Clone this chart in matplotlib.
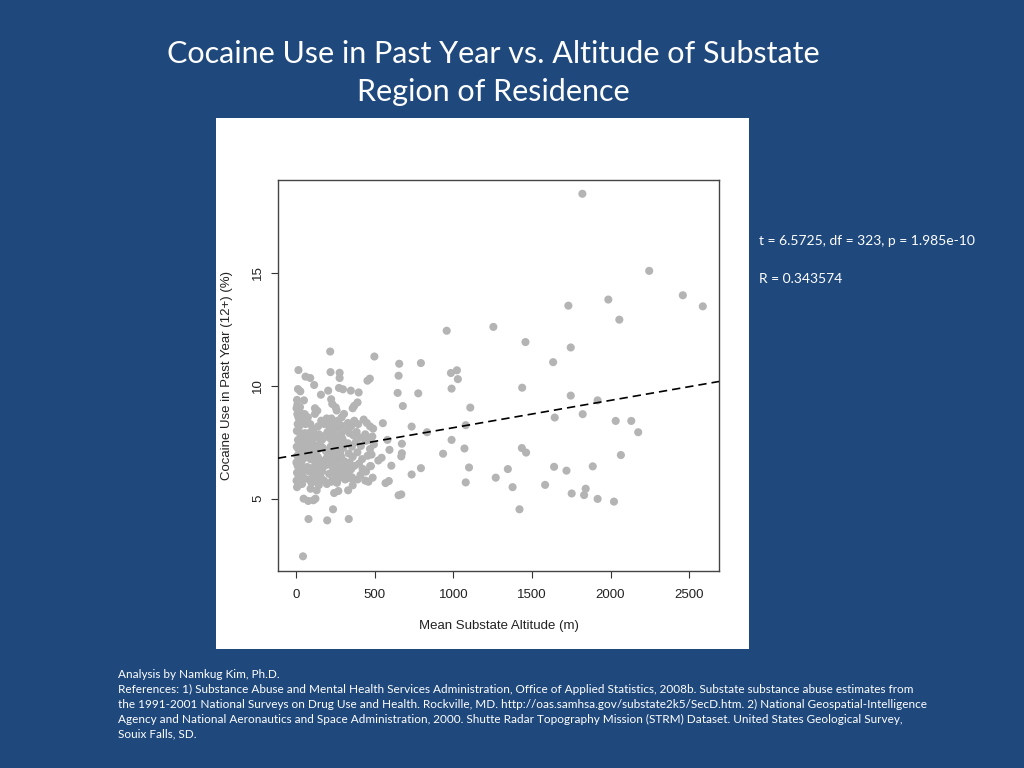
import matplotlib
matplotlib.use("Agg")
import matplotlib.pyplot as plt
from matplotlib.patches import Rectangle

# scattered points (altitude m, cocaine use %)
sparse_alt = [44, 15, 60, 90, 115, 12, 27, 6, 158, 217, 219, 277, 277, 204, 223,
              273, 298, 348, 398, 454, 469, 498, 656, 652, 646, 679, 794, 777,
              958, 985, 1023, 1029, 989, 1108, 1255, 1079, 989, 1071, 935, 1100,
              1079, 833, 735, 552, 581, 594, 673, 673, 669, 606, 735, 794, 569,
              590, 652, 669, 487, 523, 544, 471, 335, 198, 79, 235, 48, 77, 110,
              123, 6, 92, 131, 242, 269, 331, 360,
              1821, 2246, 2460, 2587, 1986, 1732, 2056, 1459, 1747, 1635, 1438,
              1747, 1918, 1645, 1823, 2033, 2132, 2176, 2066, 1436, 1463, 1347,
              1270, 1377, 1421, 1584, 1641, 1720, 1887, 1753, 1842, 1832, 1918,
              2022]
sparse_use = [2.45, 10.69, 10.4, 10.34, 10.03, 9.85, 9.75, 9.37, 9.6, 11.51, 10.6,
              10.57, 10.34, 9.78, 9.4, 9.9, 9.84, 9.78, 9.7, 10.22, 10.31, 11.29,
              10.97, 10.44, 9.68, 9.1, 11.0, 9.66, 12.43, 10.56, 10.68, 10.29,
              9.87, 9.03, 12.6, 8.25, 7.6, 7.22, 6.99, 6.38, 5.72, 7.94, 8.19,
              8.34, 7.6, 7.16, 7.43, 7.01, 6.87, 6.46, 6.07, 6.35, 5.69, 5.78,
              5.15, 5.19, 5.93, 6.69, 6.81, 6.44, 4.1, 4.04, 4.1, 4.53, 5.0, 4.9,
              4.93, 5.0, 5.51, 5.44, 5.37, 5.25, 5.34, 5.37, 5.59,
              18.49, 15.08, 14.0, 13.51, 13.81, 13.54, 12.92, 11.93, 11.69, 11.04,
              9.91, 9.56, 9.35, 8.59, 8.74, 8.44, 8.44, 7.94, 6.93, 7.24, 7.04,
              6.31, 5.93, 5.51, 4.53, 5.61, 6.41, 6.24, 6.43, 5.23, 5.44, 5.16,
              4.99, 4.87]

# dense cluster below 500 m
cluster_alt = [3, 8, 15, 22, 30, 42, 55, 10, 20, 45, 60, 70, 5, 18, 28, 40, 55, 12,
               25, 35, 48, 62, 4, 14, 26, 38, 52, 65, 8, 20, 32, 44, 58, 2, 10, 22,
               34, 46, 60, 6, 16, 28, 40, 52, 3, 14, 26, 38, 8, 25, 50,
               75, 90, 105, 120, 140, 160, 180, 195, 80, 95, 110, 125, 145, 165,
               185, 200, 70, 88, 100, 118, 135, 150, 170, 190, 78, 92, 108, 122,
               138, 155, 175, 195, 72, 85, 100, 115, 130, 148, 165, 182, 82, 98,
               112, 128, 145, 160, 178, 196, 135, 100, 160, 120,
               205, 225, 245, 265, 285, 305, 215, 240, 260, 290, 310, 210, 230,
               250, 270, 295, 315, 220, 240, 262, 280, 300, 205, 228, 248, 268,
               288, 308, 215, 235, 255, 275, 298, 318, 210, 232, 252, 272, 292,
               312, 225, 260, 245, 280, 230, 252, 258, 290,
               330, 350, 370, 395, 430, 450, 470, 490, 360, 370, 391, 340, 365,
               385, 410, 440, 465, 485, 330, 355, 380, 412, 444, 470, 495, 335,
               360, 390, 420, 455, 480, 340, 370, 400, 423, 445, 476, 330, 355,
               391, 410, 350, 440, 325, 357, 460]
cluster_use = [9.0, 8.74, 8.6, 8.45, 8.74, 8.74, 8.74, 8.3, 8.2, 8.4, 8.3, 8.45,
               8.0, 7.95, 7.85, 7.7, 7.9, 7.6, 7.5, 7.35, 7.55, 7.65, 7.3, 7.2,
               7.1, 7.0, 7.15, 7.05, 6.9, 6.8, 6.65, 6.75, 6.85, 6.6, 6.45, 6.35,
               6.25, 6.4, 6.3, 6.15, 6.0, 5.95, 6.05, 5.9, 5.8, 5.7, 5.85, 5.65,
               9.15, 9.05, 9.35,
               8.6, 8.3, 8.1, 8.75, 8.2, 8.45, 8.3, 8.55, 7.9, 7.75, 7.95, 7.7,
               7.85, 7.6, 7.8, 7.95, 7.4, 7.25, 7.5, 7.35, 7.15, 7.4, 7.25, 7.1,
               6.9, 6.75, 6.95, 6.6, 6.85, 6.7, 6.55, 6.8, 6.4, 6.2, 6.35, 6.1,
               6.3, 6.05, 6.2, 6.45, 5.85, 5.7, 5.95, 5.75, 5.6, 5.9, 5.8, 5.65,
               8.89, 7.05, 6.45, 9.0,
               8.4, 8.55, 8.3, 8.45, 8.25, 8.75, 8.1, 7.95, 8.15, 7.9, 8.05, 7.7,
               7.55, 7.75, 7.5, 7.65, 7.45, 7.3, 7.15, 7.35, 7.05, 7.25, 6.95,
               6.8, 6.9, 6.7, 6.85, 6.65, 6.5, 6.35, 6.55, 6.4, 6.3, 6.45, 6.1,
               5.95, 6.15, 5.9, 6.05, 5.85, 5.75, 5.7, 7.0, 6.2, 9.19, 9.04, 8.9,
               8.6,
               8.35, 8.2, 8.45, 8.3, 8.5, 8.35, 8.2, 8.1, 9.0, 9.11, 9.26, 7.9,
               7.8, 7.95, 7.7, 7.85, 7.6, 7.75, 7.45, 7.3, 7.5, 7.33, 7.56, 7.2,
               7.4, 7.0, 6.85, 7.05, 6.75, 6.9, 6.95, 6.6, 6.45, 6.55, 6.32, 6.2,
               6.44, 6.15, 5.95, 5.85, 6.05, 6.3, 5.8, 5.9, 5.88, 5.75]

# regression line
fit_intercept = 6.93
fit_slope = 0.00121

title = "Cocaine Use in Past Year vs. Altitude of Substate\nRegion of Residence"
stats_lines = ["t = 6.5725, df = 323, p = 1.985e-10", "R = 0.343574"]
footer = ("Analysis by Namkug Kim, Ph.D.\n"
          "References: 1) Substance Abuse and Mental Health Services Administration, Office of Applied Statistics, 2008b. Substate substance abuse estimates from\n"
          "the 1991-2001 National Surveys on Drug Use and Health. Rockville, MD. http://oas.samhsa.gov/substate2k5/SecD.htm. 2) National Geospatial-Intelligence\n"
          "Agency and National Aeronautics and Space Administration, 2000. Shutte Radar Topography Mission (STRM) Dataset. United States Geological Survey,\n"
          "Souix Falls, SD.")

bg = "#1f497d"
fig = plt.figure(figsize=(10.24, 7.68), dpi=100, facecolor=bg)

# white panel behind the R plot
fig.patches.append(Rectangle((216 / 1024, 1 - 649 / 768), 533 / 1024, 531 / 768,
                             transform=fig.transFigure, facecolor="white",
                             edgecolor="none", zorder=-5))

ax = fig.add_axes([278 / 1024, 1 - 571 / 768, 441 / 1024, 391 / 768])
ax.set_zorder(2)
ax.set_facecolor("white")
ax.scatter(sparse_alt + cluster_alt, sparse_use + cluster_use, s=34,
           color="#b4b4b4", edgecolors="none", zorder=2)

ax.set_xlim(-115, 2690)
ax.set_ylim(1.8, 19.1)
xl = ax.get_xlim()
ax.plot(xl, [fit_intercept + fit_slope * v for v in xl], color="black",
        linestyle=(0, (5, 3)), linewidth=1.2, zorder=3)
ax.set_xlim(xl)

plot_font = "Liberation Sans"
ax.set_xticks([0, 500, 1000, 1500, 2000, 2500])
ax.set_yticks([5, 10, 15])
ax.tick_params(direction="out", length=5, width=0.8, color="#333333",
               labelsize=9.5, labelcolor="#222222")
ax.tick_params(axis="x", pad=8)
ax.tick_params(axis="y", pad=5)
for lab in ax.get_xticklabels():
    lab.set_family(plot_font)
for lab in ax.get_yticklabels():
    lab.set_family(plot_font)
    lab.set_rotation(90)
    lab.set_va("center")
for sp in ax.spines.values():
    sp.set_color("#444444")
    sp.set_linewidth(1.0)
ax.set_xlabel("Mean Substate Altitude (m)", fontsize=9.5, family=plot_font,
              color="#222222", labelpad=14)
ax.set_ylabel("Cocaine Use in Past Year (12+) (%)", fontsize=9.5,
              family=plot_font, color="#222222", labelpad=14)

slide_font = ["Lato", "DejaVu Sans"]
fig.text(493 / 1024, 1 - 73 / 768, title, ha="center", va="center",
         fontsize=22, color="white", family=slide_font, linespacing=1.45)
fig.text(759 / 1024, 1 - 241 / 768, stats_lines[0], ha="left", va="center",
         fontsize=10, color="white", family=slide_font)
fig.text(759 / 1024, 1 - 279 / 768, stats_lines[1], ha="left", va="center",
         fontsize=10, color="white", family=slide_font)
fig.text(118 / 1024, 1 - 669 / 768, footer, ha="left", va="top",
         fontsize=8.45, color="white", family=slide_font, linespacing=1.42)

fig.savefig("out.png", dpi=100, facecolor=bg)
